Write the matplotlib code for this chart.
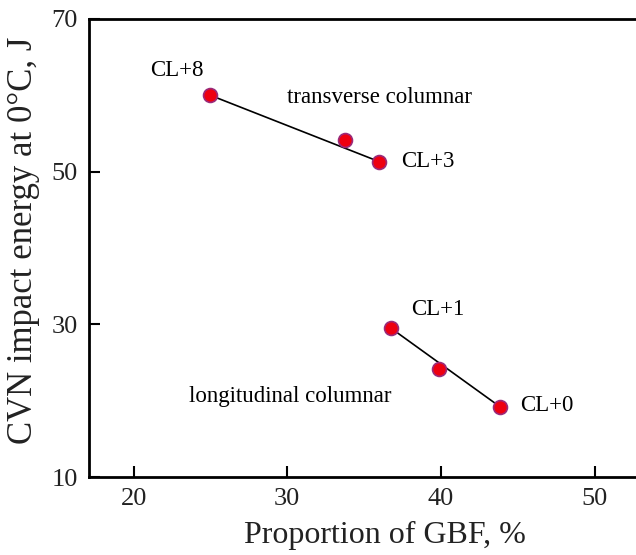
import matplotlib
matplotlib.use("Agg")
import matplotlib.pyplot as plt

plt.rcParams['font.family'] = ['Liberation Serif', 'DejaVu Serif']

trans_x = [25.0, 33.75, 36.0]
trans_y = [60.0, 54.15, 51.3]
long_x = [36.75, 39.9, 43.85]
long_y = [29.5, 24.2, 19.2]

labels = ["CL+8", "CL+3", "CL+1", "CL+0"]

fig = plt.figure(figsize=(6.36, 5.55), dpi=100)
ax = fig.add_axes([0.14, 0.1405, 0.86, 0.8253])

# fitted lines drawn between end points
ax.plot([trans_x[0], trans_x[-1]], [trans_y[0], trans_y[-1]], color='black', lw=1.2, zorder=2)
ax.plot([long_x[0], long_x[-1]], [long_y[0], long_y[-1]], color='black', lw=1.2, zorder=2)
ax.plot(trans_x, trans_y, 'o', ms=10, mfc='#ee0010', mec='#9a2a7a', mew=1.2, zorder=3)
ax.plot(long_x, long_y, 'o', ms=10, mfc='#ee0010', mec='#9a2a7a', mew=1.2, zorder=3)

fs = 16.5
ax.text(22.8, 63.3, labels[0], ha='center', va='center', fontsize=fs)
ax.text(37.4, 51.3, labels[1], ha='left', va='center', fontsize=fs)
ax.text(38.05, 31.9, labels[2], ha='left', va='center', fontsize=fs)
ax.text(45.15, 19.4, labels[3], ha='left', va='center', fontsize=fs)
ax.text(36.0, 59.65, "transverse columnar", ha='center', va='center', fontsize=fs)
ax.text(30.2, 20.5, "longitudinal columnar", ha='center', va='center', fontsize=fs)

ax.set_xlim(17.1, 52.7)
ax.set_ylim(10, 70)
ax.set_xticks([20, 30, 40, 50])
ax.set_yticks([10, 30, 50, 70])
ax.tick_params(direction='in', length=8, width=1.5, labelsize=19, pad=8, labelcolor='#222222')
for s in ['left', 'bottom', 'top']:
    ax.spines[s].set_linewidth(2)
ax.spines['right'].set_visible(False)
ax.set_xlabel("Proportion of GBF, %", fontsize=23, color='#222222')
ax.set_ylabel("CVN impact energy at 0°C, J", fontsize=25, color='#222222')
ax.xaxis.set_label_coords(0.541, -0.095)
ax.yaxis.set_label_coords(-0.09, 0.517)

fig.savefig("out.png", dpi=100)
